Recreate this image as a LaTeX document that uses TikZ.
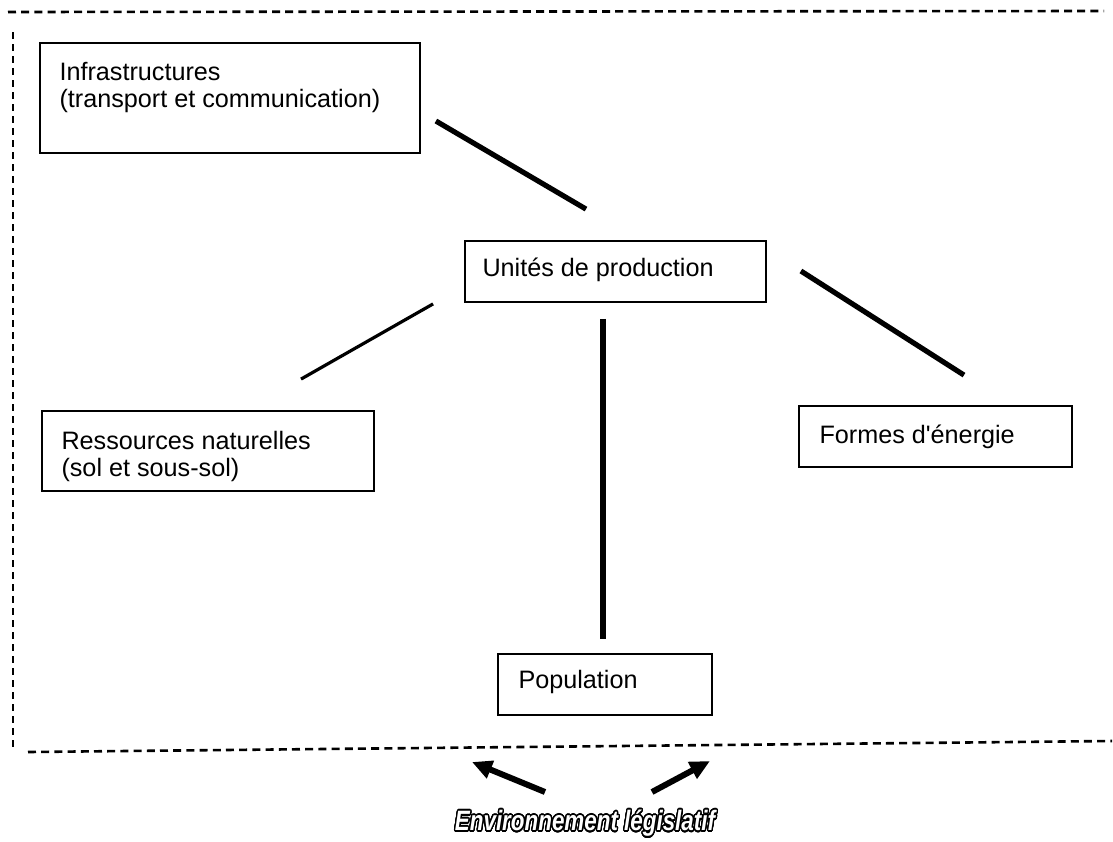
\documentclass[tikz,border=0pt]{standalone}
\usepackage{fontspec}
\setmainfont{Liberation Sans}
\usepackage{contour}
\usetikzlibrary{arrows.meta,positioning}
\contourlength{0.8pt}
\contournumber{32}

\begin{document}
\begin{tikzpicture}[x=0.5pt,y=-0.5pt,font=\fontsize{12.6}{13.2}\selectfont,
  >={Triangle[length=10pt,width=9pt]},
  boite/.style={draw,line width=0.9pt,inner sep=0pt},
  texte/.style={inner sep=0pt,align=left},
  lien/.style={line width=2.6pt},
  cadre/.style={line width=1.3pt,dash pattern=on 4pt off 2.6pt}]
\useasboundingbox (0,0) rectangle (1113,841);
% cadre ouvert a droite
\draw[cadre] (8,12) -- (1104,11);
\draw[cadre,dash pattern=on 3.5pt off 2.5pt] (13,32) -- (13,748);
\draw[cadre] (28,752) -- (1112,741);
% boites
\node[boite,minimum width=190pt,minimum height=55pt] (infra) at (230,98) {};
\node[boite,minimum width=150.5pt,minimum height=30.5pt] (unite) at (615.5,271.5) {};
\node[boite,minimum width=166pt,minimum height=40pt] (ress) at (208,451) {};
\node[boite,minimum width=136.5pt,minimum height=30.5pt] (formes) at (935.5,436.5) {};
\node[boite,minimum width=107pt,minimum height=30.5pt] (pop) at (605,684.5) {};
% textes
\node[texte,below right=10pt and 10pt of infra.north west] {Infrastructures\\(transport et communication)};
\node[texte,below right=8.5pt and 9pt of unite.north west] {Unités de production};
\node[texte,below right=10.5pt and 10pt of ress.north west] {Ressources naturelles\\(sol et sous-sol)};
\node[texte,below right=9.5pt and 10.5pt of formes.north west] {Formes d\textquotesingle énergie};
\node[texte,below right=8.5pt and 10.5pt of pop.north west] {Population};
% liens
\draw[lien] ([shift={(15,23)}]infra.east) -- ([shift={(-29.5,-31)}]unite.north);
\draw[lien,line width=1.6pt] ([shift={(-31,1)}]unite.south west) -- ([shift={(93,-31)}]ress.north);
\draw[lien,line width=3pt] ([shift={(-12.5,16)}]unite.south) -- ([shift={(-2,-14)}]pop.north);
\draw[lien] ([shift={(34,-0.5)}]unite.east) -- ([shift={(28.5,-30)}]formes.north);
% environnement
\node (env) at (585,824) {\scalebox{0.8}[1]{\fontsize{14}{15}\selectfont\bfseries\itshape\color{white}\contour{black}{Environnement législatif}}};
\coordinate (pg) at (472,762);
\coordinate (pd) at (710,761);
\draw[->,line width=3pt] ([shift={(-40,-32)}]env.center) -- (pg);
\draw[->,line width=3pt] ([shift={(67,-32)}]env.center) -- (pd);
\end{tikzpicture}
\end{document}
